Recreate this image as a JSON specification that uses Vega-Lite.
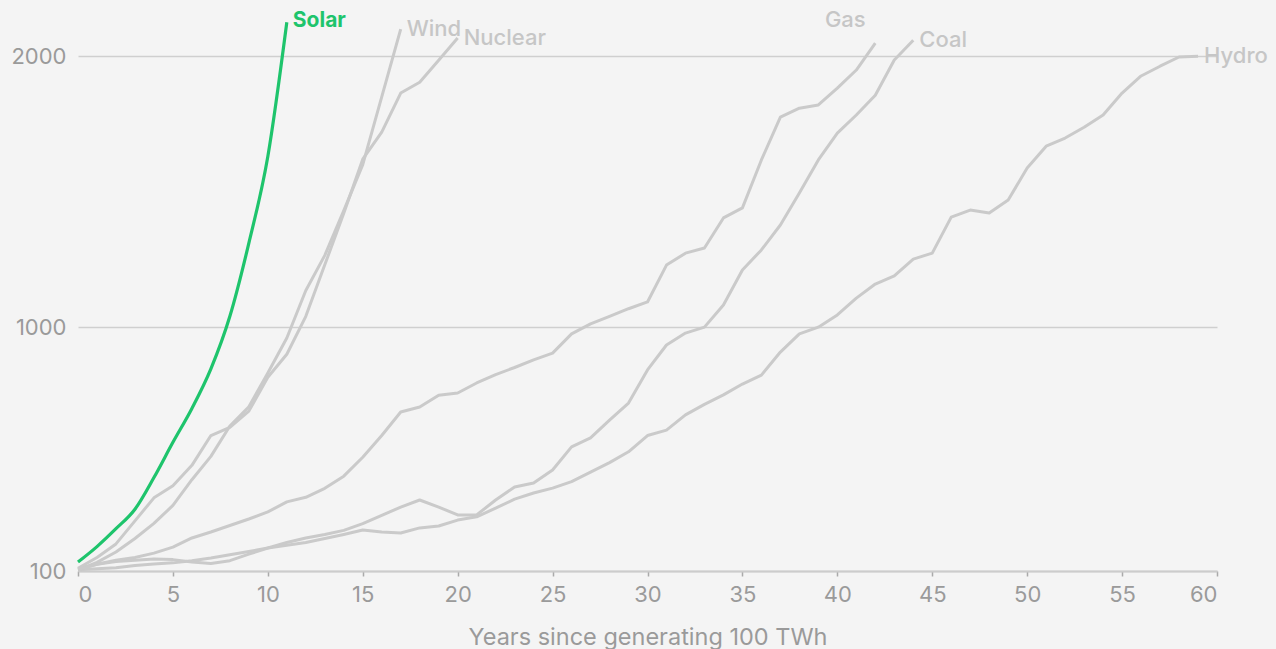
{
  "$schema": "https://vega.github.io/schema/vega-lite/v6.json",
  "width": 1139,
  "height": 569,
  "autosize": {"type": "none"},
  "padding": {"left": 78, "top": 2, "right": 59, "bottom": 78},
  "background": "#f4f4f4",
  "config": {
    "view": {"stroke": null},
    "font": "Inter",
    "axis": {"labelFont": "Inter", "titleFont": "Inter"}
  },
  "data": {
    "values": [
      {"source": "Solar", "year": 0, "value": 133},
      {"source": "Solar", "year": 1, "value": 190},
      {"source": "Solar", "year": 2, "value": 256},
      {"source": "Solar", "year": 3, "value": 328},
      {"source": "Solar", "year": 4, "value": 445},
      {"source": "Solar", "year": 5, "value": 575},
      {"source": "Solar", "year": 6, "value": 700},
      {"source": "Solar", "year": 7, "value": 846},
      {"source": "Solar", "year": 8, "value": 1040},
      {"source": "Solar", "year": 9, "value": 1310},
      {"source": "Solar", "year": 10, "value": 1630},
      {"source": "Solar", "year": 11, "value": 2125},

      {"source": "Wind", "year": 0, "value": 104},
      {"source": "Wind", "year": 1, "value": 132},
      {"source": "Wind", "year": 2, "value": 170},
      {"source": "Wind", "year": 3, "value": 220},
      {"source": "Wind", "year": 4, "value": 276},
      {"source": "Wind", "year": 5, "value": 342},
      {"source": "Wind", "year": 6, "value": 437},
      {"source": "Wind", "year": 7, "value": 523},
      {"source": "Wind", "year": 8, "value": 635},
      {"source": "Wind", "year": 9, "value": 706},
      {"source": "Wind", "year": 10, "value": 831},
      {"source": "Wind", "year": 11, "value": 960},
      {"source": "Wind", "year": 12, "value": 1135},
      {"source": "Wind", "year": 13, "value": 1265},
      {"source": "Wind", "year": 14, "value": 1430},
      {"source": "Wind", "year": 15, "value": 1600},
      {"source": "Wind", "year": 16, "value": 1850},
      {"source": "Wind", "year": 17, "value": 2100},

      {"source": "Nuclear", "year": 0, "value": 110},
      {"source": "Nuclear", "year": 1, "value": 150},
      {"source": "Nuclear", "year": 2, "value": 200},
      {"source": "Nuclear", "year": 3, "value": 285},
      {"source": "Nuclear", "year": 4, "value": 370},
      {"source": "Nuclear", "year": 5, "value": 415},
      {"source": "Nuclear", "year": 6, "value": 490},
      {"source": "Nuclear", "year": 7, "value": 600},
      {"source": "Nuclear", "year": 8, "value": 630},
      {"source": "Nuclear", "year": 9, "value": 690},
      {"source": "Nuclear", "year": 10, "value": 815},
      {"source": "Nuclear", "year": 11, "value": 900},
      {"source": "Nuclear", "year": 12, "value": 1040},
      {"source": "Nuclear", "year": 13, "value": 1230},
      {"source": "Nuclear", "year": 14, "value": 1420},
      {"source": "Nuclear", "year": 15, "value": 1620},
      {"source": "Nuclear", "year": 16, "value": 1720},
      {"source": "Nuclear", "year": 17, "value": 1864},
      {"source": "Nuclear", "year": 18, "value": 1904},
      {"source": "Nuclear", "year": 19, "value": 1985},
      {"source": "Nuclear", "year": 20, "value": 2067},

      {"source": "Gas", "year": 0, "value": 108},
      {"source": "Gas", "year": 1, "value": 125},
      {"source": "Gas", "year": 2, "value": 140},
      {"source": "Gas", "year": 3, "value": 150},
      {"source": "Gas", "year": 4, "value": 166},
      {"source": "Gas", "year": 5, "value": 188},
      {"source": "Gas", "year": 6, "value": 222},
      {"source": "Gas", "year": 7, "value": 244},
      {"source": "Gas", "year": 8, "value": 268},
      {"source": "Gas", "year": 9, "value": 292},
      {"source": "Gas", "year": 10, "value": 318},
      {"source": "Gas", "year": 11, "value": 355},
      {"source": "Gas", "year": 12, "value": 372},
      {"source": "Gas", "year": 13, "value": 405},
      {"source": "Gas", "year": 14, "value": 450},
      {"source": "Gas", "year": 15, "value": 520},
      {"source": "Gas", "year": 16, "value": 600},
      {"source": "Gas", "year": 17, "value": 687},
      {"source": "Gas", "year": 18, "value": 705},
      {"source": "Gas", "year": 19, "value": 749},
      {"source": "Gas", "year": 20, "value": 757},
      {"source": "Gas", "year": 21, "value": 794},
      {"source": "Gas", "year": 22, "value": 825},
      {"source": "Gas", "year": 23, "value": 851},
      {"source": "Gas", "year": 24, "value": 879},
      {"source": "Gas", "year": 25, "value": 904},
      {"source": "Gas", "year": 26, "value": 975},
      {"source": "Gas", "year": 27, "value": 1012},
      {"source": "Gas", "year": 28, "value": 1040},
      {"source": "Gas", "year": 29, "value": 1068},
      {"source": "Gas", "year": 30, "value": 1093},
      {"source": "Gas", "year": 31, "value": 1229},
      {"source": "Gas", "year": 32, "value": 1273},
      {"source": "Gas", "year": 33, "value": 1292},
      {"source": "Gas", "year": 34, "value": 1403},
      {"source": "Gas", "year": 35, "value": 1440},
      {"source": "Gas", "year": 36, "value": 1617},
      {"source": "Gas", "year": 37, "value": 1775},
      {"source": "Gas", "year": 38, "value": 1808},
      {"source": "Gas", "year": 39, "value": 1820},
      {"source": "Gas", "year": 40, "value": 1882},
      {"source": "Gas", "year": 41, "value": 1949},
      {"source": "Gas", "year": 42, "value": 2048},

      {"source": "Coal", "year": 0, "value": 105},
      {"source": "Coal", "year": 1, "value": 108},
      {"source": "Coal", "year": 2, "value": 112},
      {"source": "Coal", "year": 3, "value": 120},
      {"source": "Coal", "year": 4, "value": 126},
      {"source": "Coal", "year": 5, "value": 130},
      {"source": "Coal", "year": 6, "value": 138},
      {"source": "Coal", "year": 7, "value": 148},
      {"source": "Coal", "year": 8, "value": 160},
      {"source": "Coal", "year": 9, "value": 172},
      {"source": "Coal", "year": 10, "value": 185},
      {"source": "Coal", "year": 11, "value": 205},
      {"source": "Coal", "year": 12, "value": 222},
      {"source": "Coal", "year": 13, "value": 235},
      {"source": "Coal", "year": 14, "value": 250},
      {"source": "Coal", "year": 15, "value": 275},
      {"source": "Coal", "year": 16, "value": 305},
      {"source": "Coal", "year": 17, "value": 336},
      {"source": "Coal", "year": 18, "value": 362},
      {"source": "Coal", "year": 19, "value": 336},
      {"source": "Coal", "year": 20, "value": 307},
      {"source": "Coal", "year": 21, "value": 307},
      {"source": "Coal", "year": 22, "value": 362},
      {"source": "Coal", "year": 23, "value": 410},
      {"source": "Coal", "year": 24, "value": 425},
      {"source": "Coal", "year": 25, "value": 473},
      {"source": "Coal", "year": 26, "value": 558},
      {"source": "Coal", "year": 27, "value": 591},
      {"source": "Coal", "year": 28, "value": 657},
      {"source": "Coal", "year": 29, "value": 720},
      {"source": "Coal", "year": 30, "value": 842},
      {"source": "Coal", "year": 31, "value": 934},
      {"source": "Coal", "year": 32, "value": 978},
      {"source": "Coal", "year": 33, "value": 1000},
      {"source": "Coal", "year": 34, "value": 1082},
      {"source": "Coal", "year": 35, "value": 1211},
      {"source": "Coal", "year": 36, "value": 1285},
      {"source": "Coal", "year": 37, "value": 1377},
      {"source": "Coal", "year": 38, "value": 1495},
      {"source": "Coal", "year": 39, "value": 1617},
      {"source": "Coal", "year": 40, "value": 1716},
      {"source": "Coal", "year": 41, "value": 1783},
      {"source": "Coal", "year": 42, "value": 1856},
      {"source": "Coal", "year": 43, "value": 1986},
      {"source": "Coal", "year": 44, "value": 2059},

      {"source": "Hydro", "year": 0, "value": 105},
      {"source": "Hydro", "year": 1, "value": 125},
      {"source": "Hydro", "year": 2, "value": 135},
      {"source": "Hydro", "year": 3, "value": 140},
      {"source": "Hydro", "year": 4, "value": 144},
      {"source": "Hydro", "year": 5, "value": 142},
      {"source": "Hydro", "year": 6, "value": 133},
      {"source": "Hydro", "year": 7, "value": 128},
      {"source": "Hydro", "year": 8, "value": 138},
      {"source": "Hydro", "year": 9, "value": 162},
      {"source": "Hydro", "year": 10, "value": 185},
      {"source": "Hydro", "year": 11, "value": 195},
      {"source": "Hydro", "year": 12, "value": 205},
      {"source": "Hydro", "year": 13, "value": 220},
      {"source": "Hydro", "year": 14, "value": 235},
      {"source": "Hydro", "year": 15, "value": 251},
      {"source": "Hydro", "year": 16, "value": 244},
      {"source": "Hydro", "year": 17, "value": 240},
      {"source": "Hydro", "year": 18, "value": 259},
      {"source": "Hydro", "year": 19, "value": 266},
      {"source": "Hydro", "year": 20, "value": 288},
      {"source": "Hydro", "year": 21, "value": 300},
      {"source": "Hydro", "year": 22, "value": 332},
      {"source": "Hydro", "year": 23, "value": 365},
      {"source": "Hydro", "year": 24, "value": 388},
      {"source": "Hydro", "year": 25, "value": 406},
      {"source": "Hydro", "year": 26, "value": 430},
      {"source": "Hydro", "year": 27, "value": 465},
      {"source": "Hydro", "year": 28, "value": 500},
      {"source": "Hydro", "year": 29, "value": 540},
      {"source": "Hydro", "year": 30, "value": 600},
      {"source": "Hydro", "year": 31, "value": 620},
      {"source": "Hydro", "year": 32, "value": 676},
      {"source": "Hydro", "year": 33, "value": 715},
      {"source": "Hydro", "year": 34, "value": 750},
      {"source": "Hydro", "year": 35, "value": 790},
      {"source": "Hydro", "year": 36, "value": 823},
      {"source": "Hydro", "year": 37, "value": 908},
      {"source": "Hydro", "year": 38, "value": 975},
      {"source": "Hydro", "year": 39, "value": 1000},
      {"source": "Hydro", "year": 40, "value": 1045},
      {"source": "Hydro", "year": 41, "value": 1107},
      {"source": "Hydro", "year": 42, "value": 1159},
      {"source": "Hydro", "year": 43, "value": 1189},
      {"source": "Hydro", "year": 44, "value": 1251},
      {"source": "Hydro", "year": 45, "value": 1273},
      {"source": "Hydro", "year": 46, "value": 1406},
      {"source": "Hydro", "year": 47, "value": 1432},
      {"source": "Hydro", "year": 48, "value": 1421},
      {"source": "Hydro", "year": 49, "value": 1469},
      {"source": "Hydro", "year": 50, "value": 1587},
      {"source": "Hydro", "year": 51, "value": 1668},
      {"source": "Hydro", "year": 52, "value": 1698},
      {"source": "Hydro", "year": 53, "value": 1738},
      {"source": "Hydro", "year": 54, "value": 1783},
      {"source": "Hydro", "year": 55, "value": 1864},
      {"source": "Hydro", "year": 56, "value": 1927},
      {"source": "Hydro", "year": 57, "value": 1963},
      {"source": "Hydro", "year": 58, "value": 1997},
      {"source": "Hydro", "year": 59, "value": 2000}
    ]
  },
  "encoding": {
    "x": {
      "field": "year",
      "type": "quantitative",
      "scale": {"domain": [0, 60], "nice": false},
      "axis": {
        "values": [0, 5, 10, 15, 20, 25, 30, 35, 40, 45, 50, 55, 60],
        "title": "Years since generating 100 TWh",
        "grid": false,
        "domainColor": "#cccccc",
        "domainWidth": 2,
        "tickColor": "#aaaaaa",
        "tickSize": 5,
        "tickWidth": 1.5,
        "labelColor": "#9a9a9a",
        "labelFontSize": 22,
        "labelPadding": 8,
        "titleColor": "#9a9a9a",
        "titleFontSize": 23.5,
        "titleFontWeight": "normal",
        "titlePadding": 20
      }
    },
    "y": {
      "field": "value",
      "type": "quantitative",
      "scale": {"domain": [100, 2200], "nice": false, "zero": false},
      "axis": {
        "values": [100, 1000, 2000],
        "format": "d",
        "title": null,
        "domain": false,
        "ticks": false,
        "grid": true,
        "gridColor": "#cfcfcf",
        "gridWidth": 1.5,
        "labelColor": "#9a9a9a",
        "labelFontSize": 22,
        "labelPadding": 12
      }
    }
  },
  "layer": [
    {
      "transform": [{"filter": "datum.source !== 'Solar'"}],
      "mark": {"type": "line", "color": "#cacaca", "strokeWidth": 3, "strokeJoin": "round"},
      "encoding": {"detail": {"field": "source"}}
    },
    {
      "transform": [{"filter": "datum.source === 'Solar'"}],
      "mark": {"type": "line", "color": "#1ec46c", "strokeWidth": 3.2, "strokeJoin": "round", "interpolate": "monotone"}
    },
    {
      "transform": [
        {"joinaggregate": [{"op": "max", "field": "year", "as": "maxYear"}], "groupby": ["source"]},
        {"filter": "datum.year === datum.maxYear && datum.source !== 'Solar' && datum.source !== 'Gas'"}
      ],
      "mark": {"type": "text", "align": "left", "baseline": "middle", "dx": 6, "fontSize": 22, "color": "#c6c6c6", "fontWeight": 500},
      "encoding": {"text": {"field": "source"}}
    },
    {
      "transform": [{"filter": "datum.source === 'Gas' && datum.year === 42"}],
      "mark": {"type": "text", "align": "center", "baseline": "middle", "dx": -30, "dy": -23, "fontSize": 22, "color": "#c6c6c6", "fontWeight": 500},
      "encoding": {"text": {"field": "source"}}
    },
    {
      "transform": [{"filter": "datum.source === 'Solar' && datum.year === 11"}],
      "mark": {"type": "text", "align": "left", "baseline": "middle", "dx": 6, "dy": -1, "fontSize": 21, "color": "#1ec46c", "fontWeight": "bold"},
      "encoding": {"text": {"field": "source"}}
    }
  ]
}
